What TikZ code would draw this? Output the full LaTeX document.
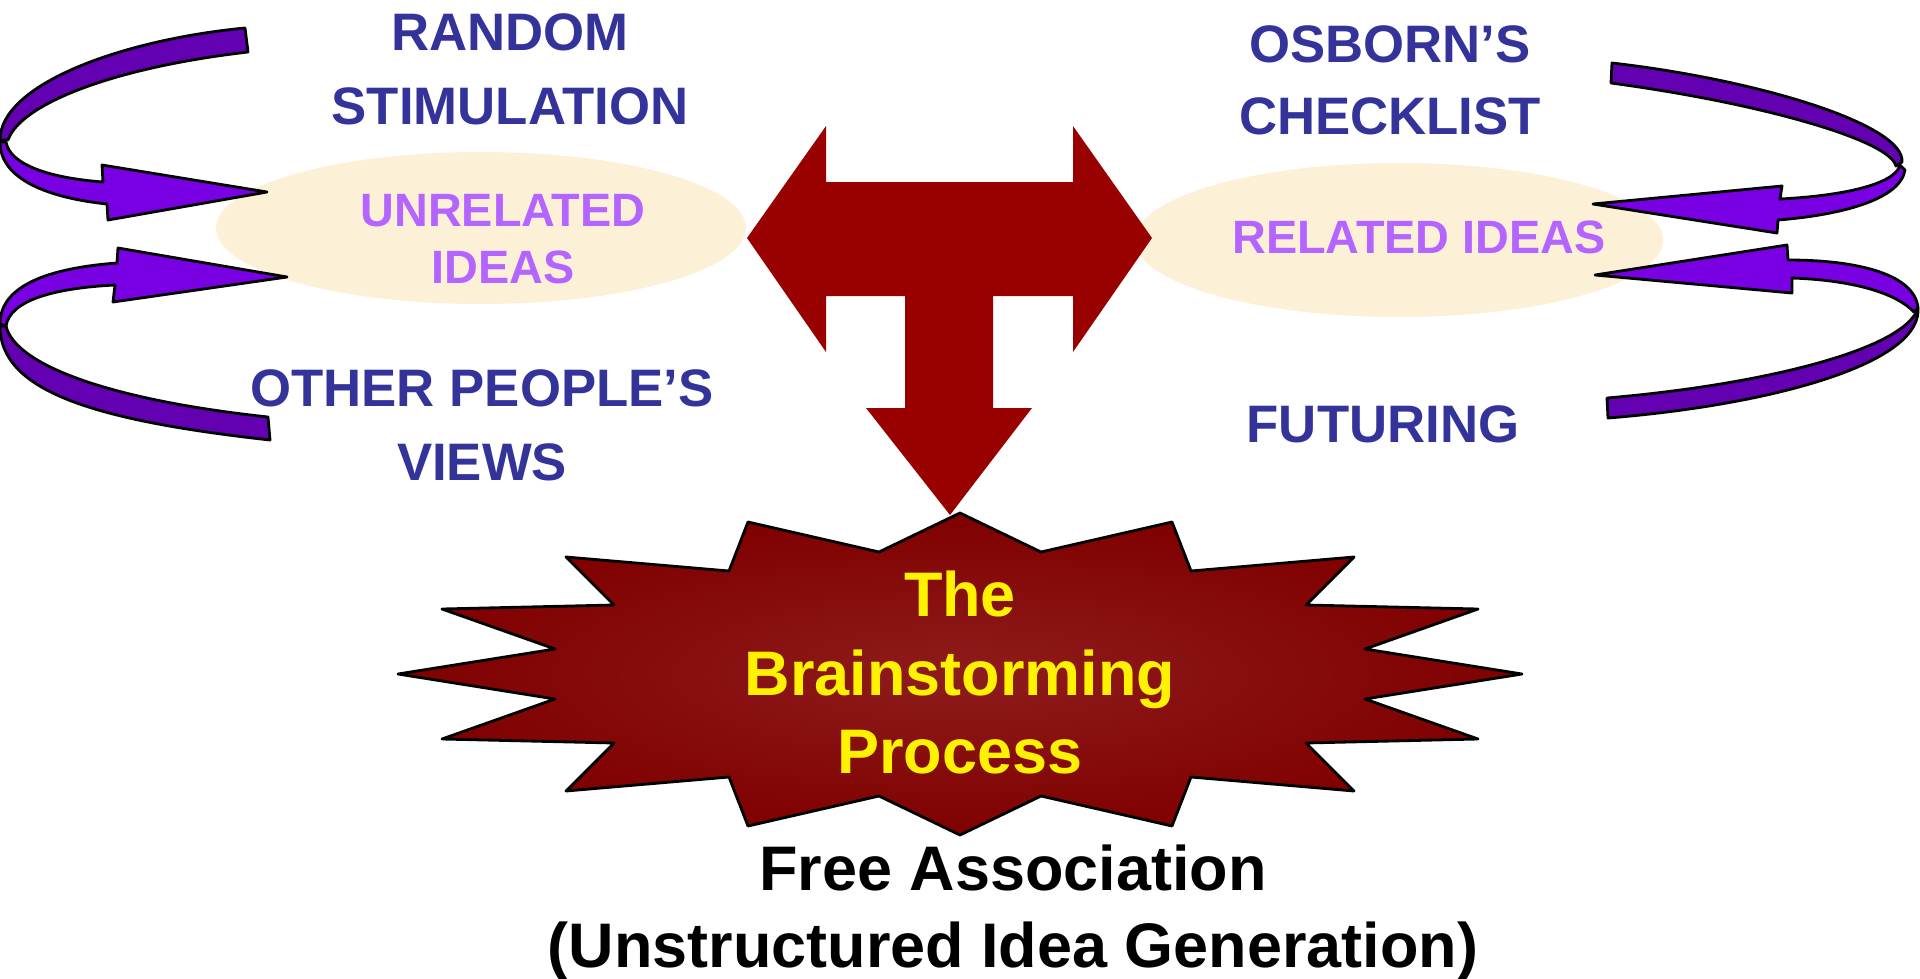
\documentclass[tikz,border=0pt]{standalone}
\usepackage{fontspec}
\setmainfont{Liberation Sans}
\definecolor{methodblue}{RGB}{51,51,153}
\definecolor{ideaviolet}{RGB}{180,100,255}
\definecolor{ideacream}{RGB}{252,240,214}
\definecolor{teered}{RGB}{153,0,0}
\definecolor{burstdark}{RGB}{128,0,0}
\definecolor{burstlight}{RGB}{142,28,28}
\definecolor{ribbonlit}{RGB}{122,0,228}
\definecolor{ribbondark}{RGB}{98,0,178}
\begin{document}
\begin{tikzpicture}[x=0.01cm, y=-0.01cm,
    ribbon/.style={fill=ribbonlit, draw=black, line width=0.8pt, line join=round},
    ribbonback/.style={ribbon, fill=ribbondark},
    methodtext/.style={text=methodblue, font=\bfseries\fontsize{15}{21}\selectfont, align=center, inner sep=0pt},
    ideatext/.style={text=ideaviolet, font=\bfseries\fontsize{13.3}{16.2}\selectfont, align=center, inner sep=0pt},
    bursttext/.style={text=yellow, font=\bfseries\fontsize{17.9}{22.2}\selectfont, align=center, inner sep=0pt},
    captiontext/.style={text=black, font=\bfseries\fontsize{17.9}{21.9}\selectfont, align=center, inner sep=0pt}]
    \useasboundingbox (0,0) rectangle (1920,978);

    \fill[ideacream] (481,228) ellipse [x radius=265, y radius=76];
    \fill[ideacream] (1399,240) ellipse [x radius=264, y radius=77];

    \shadedraw[inner color=burstlight, outer color=burstdark, draw=black, line width=0.8pt, line join=round]
        (960,513) -- (1041,552) -- (1172,522) -- (1191,571) -- (1354,557) -- (1306,605) -- (1478,609) -- (1365,649)
        -- (1522,674) -- (1365,699) -- (1478,739) -- (1306,743) -- (1354,791) -- (1191,777) -- (1172,826) -- (1041,796)
        -- (960,835) -- (879,796) -- (748,826) -- (729,777) -- (566,791) -- (614,743) -- (442,739) -- (555,699)
        -- (398,674) -- (555,649) -- (442,609) -- (614,605) -- (566,557) -- (729,571) -- (748,522) -- (879,552) -- cycle;

    \fill[teered] (747,238) -- (826,126) -- (826,182) -- (1073,182) -- (1073,126) -- (1152,238) -- (1073,352) -- (1073,296)
        -- (993,296) -- (993,408) -- (1032,408) -- (950,515) -- (866,408) -- (905,408) -- (905,296) -- (826,296) -- (826,352) -- cycle;

    \draw[ribbonback] (245,28) .. controls (120,40) and (0,85) .. (0,140) -- (8,140) .. controls (20,105) and (110,68) .. (248,52) -- cycle;
    \draw[ribbon] (0,142) .. controls (0,180) and (50,198) .. (107,204) -- (108,220) -- (267,192) -- (102,165) -- (103,182)
        .. controls (50,178) and (10,165) .. (6,142) -- cycle;

    \draw[ribbonback] (0,326) .. controls (0,390) and (90,420) .. (270,440) -- (268,417) .. controls (110,400) and (15,365) .. (6,326) -- cycle;
    \draw[ribbon] (0,324) .. controls (0,285) and (50,268) .. (117,263) -- (118,248) -- (287,277) -- (113,302) -- (115,285)
        .. controls (55,288) and (10,300) .. (6,326) -- cycle;

    \draw[ribbonback] (1612,63) .. controls (1760,80) and (1905,125) .. (1902,162) -- (1896,166) .. controls (1890,140) and (1760,103) .. (1611,83) -- cycle;
    \draw[ribbon] (1780,199) .. controls (1840,196) and (1895,185) .. (1900,165) -- (1905,170) .. controls (1900,200) and (1840,215) .. (1778,220)
        -- (1777,233) -- (1593,204) -- (1782,186) -- cycle;

    \draw[ribbonback] (1918,308) .. controls (1905,350) and (1760,385) .. (1607,398) -- (1608,418) .. controls (1770,405) and (1915,365) .. (1918,312) -- cycle;
    \draw[ribbon] (1788,260) .. controls (1860,260) and (1915,275) .. (1918,308) -- (1914,312) .. controls (1895,292) and (1850,280) .. (1792,278)
        -- (1792,293) -- (1595,275) -- (1787,245) -- cycle;

    \node[methodtext] (random) at (510,69.5) {RANDOM\\STIMULATION};
    \node[methodtext] (others) at (482,425) {OTHER PEOPLE’S\\VIEWS};
    \node[methodtext, font=\bfseries\fontsize{15}{20.5}\selectfont] (osborn) at (1390,80) {OSBORN’S\\CHECKLIST};
    \node[methodtext] (futuring) at (1383,424) {FUTURING};
    \node[ideatext] (unrelated) at (503,239.5) {UNRELATED\\IDEAS};
    \node[ideatext] (related) at (1419,237.5) {RELATED IDEAS};
    \node[bursttext] (process) at (960,672.5) {The\\Brainstorming\\Process};
    \node[captiontext] (freeassoc) at (1013,913) {Free Association\\(Unstructured Idea Generation)};
\end{tikzpicture}
\end{document}
